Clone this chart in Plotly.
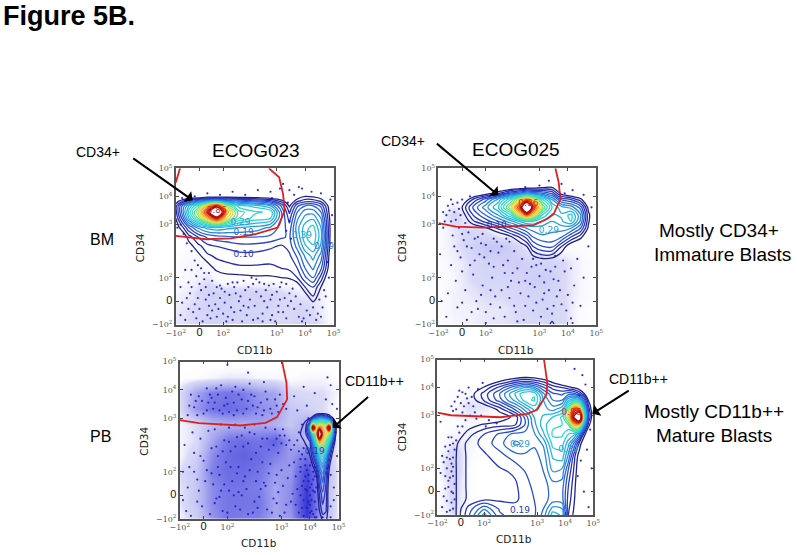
import plotly.graph_objects as go

W, H = 797, 555

# ---------- panel boxes (left, right, top, bottom in image pixels) ----------
panel_names = ["bm023", "bm025", "pb023", "pb025"]
panel_boxes = [(175, 333, 169, 325), (438, 596, 169, 325), (179, 338, 362, 519), (437, 593, 360, 515)]

# where the page puts the plotting area inside the window (offset, size)
page_x, page_y, page_w, page_h = 9, 7, 781, 543

tick_pos = [0, 0.15, 0.30, 0.64, 0.82, 1]
tick_text = ["\u221210<sup>2</sup>", '<span style="font-size:11px;font-family:Liberation Sans;color:#111">0</span>',
             "10<sup>2</sup>", "10<sup>3</sup>", "10<sup>4</sup>", "10<sup>5</sup>"]

# ---------- red gates ----------
gate_bm023 = [[(0, .567), (.19, .546), (.35, .552), (.50, .578), (.645, .621), (.69, .728), (.68, .835), (.655, .942), (.59, 1)],
              [(.027, 1), (0, .91)]]
gate_bm025 = [[(0, .649), (.11, .627), (.288, .62), (.604, .636), (.688, .675), (.73, .707), (.773, .803), (.762, .91), (.741, 1)]]
gate_pb023 = [[(0, .628), (.121, .609), (.383, .594), (.54, .611), (.613, .647), (.676, .76), (.672, .866), (.644, 1)]]
gate_pb025 = [[(0, .659), (.085, .642), (.406, .629), (.577, .651), (.641, .679), (.70, .776), (.705, .851), (.684, 1)]]

# ---------- density (log-like level units) ----------
x_bm023 = [0, .04, .08, .14, .20, .26, .32, .40, .50, .60, .67, .72, .77, .82, .87, .92, .97, 1]
y_bm023 = [0, .10, .16, .24, .30, .36, .44, .50, .56, .62, .68, .72, .76, .79, .82, .88, 1]
z_bm023 = [
 [0]*18,
 [0]*18,
 [0,0,0,0,0,0,0,0,0,0,0,0,0,.3,1.3,.3,0,0],
 [0,0,0,0,0,0,0,0,0,0,0,0,.5,1.5,2,1,0,0],
 [0,0,0,0,0,.5,.8,.8,.9,.9,1,1.1,1.5,2.4,3,1.8,.3,0],
 [0,0,0,0,.6,1.2,1.3,1.4,1.4,1.4,1.5,1.6,2,3,3.6,2.6,.8,0],
 [0,0,0,.8,1.4,1.6,1.7,1.8,1.8,1.7,1.7,1.9,2.6,3.6,4.2,3.3,1,0],
 [0,0,.7,1.3,1.8,2,2.1,2.3,2.3,2.1,1.9,2.2,3.2,4.4,4.9,3.9,1.2,0],
 [0,.4,1.2,2,2.6,2.8,2.9,3,3,2.9,2.6,2.4,3.6,4.9,5.4,4.2,1.3,0],
 [.6,1.3,2.4,3.6,4.2,4.4,4.2,4,3.8,3.4,2.8,2.2,3.8,4.8,5.2,4,1.3,0],
 [1,2.6,4.4,6.5,8.5,10.5,8,6,5.3,5,3,1.8,3.4,4.2,4.4,3.5,1.2,0],
 [1.3,3.2,5,7.4,10.5,15,9,6.2,5.6,5.4,3,1.4,3,3.8,3.8,3,1,0],
 [1.3,3,4.4,6,8.5,10.5,7,5.2,4.8,4,2.4,.9,2.4,3,3,2.4,.8,0],
 [.6,1.4,2.2,3,3.6,4,3.4,3,2.6,2.2,1.3,.3,1.4,1.8,1.8,1.4,.4,0],
 [0,0,0,0,.5,.5,.5,.5,.5,.2,0,0,.5,1,.9,.6,0,0],
 [0]*18,
 [0]*18,
]

x_bm025 = [0, .10, .15, .22, .30, .38, .46, .52, .56, .60, .66, .72, .78, .84, .90, .95, 1]
y_bm025 = [0, .02, .06, .38, .44, .50, .56, .62, .66, .70, .75, .80, .84, .88, .92, 1]
z_bm025 = [
 [0,0,0,0,0,0,0,0,0,0,0,1.3,0,0,0,0,0],
 [0,0,0,0,0,0,0,0,0,0,0,1,0,0,0,0,0],
 [0]*17,
 [0]*17,
 [0,0,0,0,0,0,0,0,0,1,1.4,1.3,.7,0,0,0,0],
 [0,0,0,0,0,0,0,.6,1,2,2.5,2.6,1.5,.4,0,0,0],
 [0,0,0,0,0,.3,.9,1.6,2.2,3,3.4,3.4,3,2,1.2,.2,0],
 [0,0,0,.5,1,1.7,2.6,3.2,3.6,3.8,3.8,3.6,3.8,3.6,2.6,.9,0],
 [0,0,.3,1.4,2.2,3,3.8,4.6,5,5,4.4,4,4.4,5,3.4,1.1,0],
 [0,0,.6,2,3,4,5.5,8,9.5,8,5.4,4.4,4.6,5.2,3.6,1.2,0],
 [0,0,1,2.6,3.8,5,7.5,10.5,15,10.5,7,5,4.2,3.8,2.8,.8,0],
 [0,0,.2,1.6,2.8,4.2,6,8,9.5,8,5.6,4,2.4,2,1.2,.1,0],
 [0,0,0,0,.6,1.4,2.6,3.2,3.6,3.4,3,2.4,.7,.2,0,0,0],
 [0,0,0,0,0,0,0,.2,.4,.5,.8,.9,.1,0,0,0,0],
 [0]*17,
 [0]*17,
]

x_pb023 = [0, .76, .79, .82, .84, .86, .88, .90, .92, .94, .96, .98, 1]
y_pb023 = [0, .06, .16, .28, .34, .40, .46, .50, .54, .58, .62, .65, .68, 1]
z_pb023 = [
 [0,0,0,0,0,0,.5,1.2,1.2,.5,0,0,0],
 [0,0,0,0,0,0,1.1,1.8,1.6,.6,0,0,0],
 [0,0,0,0,0,.4,1.6,2.4,1.8,.5,0,0,0],
 [0,0,0,0,.3,1,2.6,3.4,2.2,.8,0,0,0],
 [0,0,0,.5,1.1,2,3.6,4.2,3,1.2,.3,0,0],
 [0,0,.5,1,2,3.4,5,5.6,4.2,2,.8,0,0],
 [0,.3,.9,1.2,3,5,7,7,6,4,1.6,.4,0],
 [0,.8,1.1,1.6,4,6,9.5,8,7,5.5,3,.8,0],
 [0,1,1.2,3,5.5,7.5,15,9,8,7,4.5,1.2,0],
 [0,.9,1.2,4,12.5,7.5,9.5,8.5,8,12.5,5,1.3,0],
 [0,.4,1,2,5,5.5,6,6,5.5,5,3,.8,0],
 [0,0,0,.4,1.2,2.2,2.8,2.8,2.4,1.6,.7,0,0],
 [0]*13,
 [0]*13,
]

x_pb025 = [0, .08, .13, .20, .30, .40, .50, .56, .62, .68, .74, .80, .84, .88, .91, .94, .97, 1]
y_pb025 = [0, .04, .10, .18, .28, .38, .46, .52, .58, .63, .68, .74, .78, .82, .86, .90, 1]
z_pb025 = [
 [0,.2,1.2,2.4,4.2,2.6,2.2,2.2,2.4,3.2,4.8,4.4,1.5,.8,.3,0,0,0],
 [0,.2,1.2,2.2,3.4,2.4,2.2,2.2,2.4,3,4.2,4,1.6,.9,.3,0,0,0],
 [0,.1,1.2,1.6,1.9,1.9,1.9,2.2,2.5,2.8,3.2,3.2,1.8,1,.3,0,0,0],
 [0,.1,1.2,1.6,1.8,1.8,1.9,2.3,2.6,2.8,3.2,3.2,2,1.1,.4,0,0,0],
 [0,.1,1.2,1.6,1.8,1.9,2.1,2.5,2.7,3,4,3.8,2.4,1.3,.5,0,0,0],
 [0,.1,1.2,1.6,1.9,2.3,2.8,2.9,2.8,3.2,4.6,4.8,3.4,1.6,.7,0,0,0],
 [0,.1,1,1.7,2.2,2.8,3.6,3.4,3.1,3.6,5.2,5.2,4.2,2.8,1.4,.4,0,0],
 [0,0,.6,1.3,2,2.6,3.2,3.2,3.4,4.4,5.6,5.6,5,4.6,3.4,1.3,.2,0],
 [0,0,.2,.7,1.1,1.3,1.5,2.5,3.8,4.8,5.4,5.5,6,8.5,8,4,1.2,.2],
 [0,0,0,0,.2,.6,1.2,2.6,4,4.6,5,5.6,7.5,12,15,6,2,.4],
 [0,0,0,0,.3,1.2,2.6,3.6,4.6,4.2,3.8,4.4,6.6,10,9.5,5,1.8,.3],
 [0,0,0,.5,1.6,2.8,4.2,5.2,5.6,4,3,3,4.4,5,4.6,2.8,.9,0],
 [0,0,0,.6,1.7,3,4.6,5.4,5.4,3.6,2.6,2.4,2.8,2.6,2,1.1,.2,0],
 [0,0,0,.1,1.1,2.2,3.4,4,3.6,2.6,1.8,1.5,1.2,.9,.5,0,0,0],
 [0,0,0,0,.3,1,1.7,2,1.8,1.4,.8,.3,0,0,0,0,0,0],
 [0,0,0,0,0,0,.3,.4,.4,.1,0,0,0,0,0,0,0,0],
 [0]*18,
]

# ---------- event density outside the contours ----------
grid_axis = [0, .1, .2, .3, .4, .5, .6, .7, .8, .9, 1]
bg_bm023 = [
 [.08,.1,.13,.13,.13,.13,.1,.1,.13,.1,.02],
 [.07,.1,.13,.14,.13,.13,.12,.1,.13,.08,.02],
 [.05,.08,.14,.14,.14,.14,.13,.1,.07,.07,.02],
 [.02,.05,.08,0,0,0,0,0,0,.02,.02],
 [.03,.05,.02,0,0,0,0,0,0,0,.02],
 [.02,.02,0,0,0,0,0,0,0,0,.02],
 [0,0,0,0,0,0,0,0,0,0,.02],
 [0,0,0,0,0,0,0,0,0,0,.02],
 [0,.02,.02,.02,.02,.02,.02,.02,.03,.02,.02],
 [0,0,0,0,0,0,0,0,0,0,0],
 [0,0,0,0,0,0,0,0,0,0,0],
]
bg_bm025 = [
 [.03,.05,.06,.08,.08,.1,.1,.12,.1,.03,.02],
 [.03,.06,.06,.08,.08,.1,.12,.13,.1,.03,.02],
 [.03,.06,.08,.1,.1,.12,.13,.13,.1,.05,.02],
 [.03,.05,.1,.12,.12,.13,.16,.16,.1,.05,.02],
 [.03,.06,.1,.13,.14,.16,.13,.13,.1,.05,.02],
 [.03,.08,.13,.2,.2,.12,.03,.02,.02,.03,.02],
 [.03,.08,.12,.1,.02,0,0,0,0,0,.02],
 [.03,.13,.03,0,0,0,0,0,0,.02,.02],
 [0,.02,.04,.02,0,0,0,0,0,.02,.02],
 [0,0,0,0,0,0,0,0,0,0,0],
 [0,0,0,0,0,0,0,0,0,0,0],
]
bg_pb023 = [
 [.05,.15,.4,.55,.5,.5,.35,.4,.85,.3,.05],
 [.08,.2,.45,.55,.55,.55,.35,.45,.9,.3,.05],
 [.08,.2,.45,.55,.55,.5,.35,.45,.85,.3,.05],
 [.1,.2,.5,.6,.6,.55,.4,.4,.8,.35,.05],
 [.05,.15,.45,.6,.65,.6,.5,.4,.55,.25,.05],
 [.05,.1,.35,.55,.6,.55,.65,.35,.25,.25,.05],
 [.05,.1,.25,.3,.3,.35,.3,.2,.35,.1,.02],
 [.1,.4,.55,.6,.55,.45,.4,.2,.15,.1,.02],
 [.1,.35,.5,.55,.5,.4,.35,.12,.1,.1,.05],
 [.02,.03,.05,.08,.08,.05,.05,.03,.05,.05,.02],
 [0,0,0,0,0,0,0,0,0,0,0],
]
bg_pb025 = [
 [.02,.1,0,0,0,0,0,0,0,0,0],
 [.02,.12,.03,0,0,0,0,0,0,0,0],
 [.02,.13,.03,0,0,0,0,0,0,0,0],
 [.03,.16,.03,0,0,0,0,0,0,0,0],
 [.02,.13,.05,0,0,0,0,0,0,0,0],
 [0,.06,.06,.02,0,0,0,0,0,0,0],
 [0,.02,.05,.03,0,0,0,0,0,0,0],
 [0,.03,.1,.08,.02,0,0,0,0,0,0],
 [0,.02,.03,.03,.02,.02,0,0,0,0,0],
 [0,0,0,0,0,0,0,0,0,0,0],
 [0,0,0,0,0,0,0,0,0,0,0],
]

# ---------- individual events ----------
dots_bm023 = [(.06,.03),(.11,.08),(.17,.02),(.21,.12),(.26,.05),(.31,.14),(.36,.03),(.41,.09),(.47,.16),(.52,.04),(.58,.11),(.63,.02),
 (.68,.08),(.73,.15),(.78,.05),(.83,.09),(.89,.03),(.93,.11),(.04,.14),(.09,.2),(.14,.17),(.19,.24),(.24,.2),(.29,.23),(.34,.19),(.39,.27),
 (.44,.22),(.49,.26),(.54,.18),(.59,.25),(.64,.21),(.69,.17),(.74,.23),(.79,.13),(.08,.27),(.13,.31),(.18,.29),(.23,.28),(.28,.25),(.33,.26),
 (.37,.24),(.43,.28),(.48,.3),(.53,.27),(.57,.22),(.62,.26),(.67,.27),(.72,.2),(.03,.06),(.15,.1),(.2,.06),(.25,.13),(.3,.07),(.35,.11),(.4,.15),
 (.45,.06),(.5,.12),(.55,.07),(.6,.16),(.65,.12),(.7,.04),(.75,.1),(.8,.02),(.85,.06),(.9,.07),(.95,.18),(.16,.36),(.12,.41),(.1,.47),(.07,.52),
 (.05,.58),(.03,.64),(.01,.62),(.21,.33),(.06,.35),(.03,.24),(.97,.3),(.96,.4),(.98,.52),(.99,.7),(.98,.8),(.94,.22),(.91,.16),(.12,.82),(.2,.84),
 (.28,.83),(.36,.85),(.44,.83),(.52,.86),(.6,.85),(.66,.87),(.72,.86),(.75,.83),(.8,.87),(.86,.85),(.92,.84),(.71,.78),(.72,.66),(.7,.6),(.73,.55),
 (.78,.88),(.68,.9),(.61,.81),(.09,.8),(.04,.81),
 (.08,.1),(.13,.04),(.19,.16),(.23,.09),(.28,.17),(.33,.05),(.38,.2),(.43,.12),(.49,.03),(.51,.21),(.56,.15),(.61,.06),(.66,.24),(.71,.12),(.76,.18),
 (.81,.04),(.87,.11),(.92,.05),(.16,.22),(.21,.19),(.26,.24),(.31,.21),(.36,.27),(.41,.18),(.46,.24),(.51,.29),(.56,.26),(.61,.19),(.66,.16),(.7,.26),
 (.22,.04),(.27,.1),(.32,.02),(.37,.08),(.42,.02),(.46,.11),(.55,.02),(.6,.03),(.65,.08),(.12,.13),(.07,.17),(.1,.35),(.14,.38),(.18,.33),(.1,.24),(.15,.26)]
dots_bm025 = [(.05,.05),(.12,.11),(.18,.03),(.24,.15),(.3,.08),(.36,.18),(.42,.05),(.48,.12),(.54,.03),(.6,.09),(.66,.16),(.72,.07),(.78,.13),(.84,.04),
 (.06,.2),(.11,.28),(.17,.22),(.22,.32),(.28,.25),(.34,.3),(.4,.22),(.46,.28),(.52,.2),(.58,.26),(.64,.31),(.7,.22),(.76,.28),(.82,.19),
 (.08,.38),(.14,.43),(.2,.38),(.26,.45),(.32,.39),(.38,.46),(.44,.41),(.5,.36),(.56,.33),(.62,.38),(.68,.35),(.74,.37),(.8,.34),(.86,.25),(.9,.12),
 (.1,.5),(.16,.54),(.21,.49),(.25,.56),(.3,.51),(.35,.55),(.4,.5),(.45,.53),(.28,.58),(.19,.59),(.13,.62),(.08,.66),(.05,.7),(.1,.72),(.12,.78),
 (.08,.8),(.06,.76),(.14,.7),(.03,.62),(.01,.45),(.02,.15),(.15,.34),(.25,.1),(.35,.04),(.45,.17),(.55,.12),(.65,.05),(.75,.18),(.85,.14),(.92,.3),
 (.88,.42),(.95,.5),(.97,.75),(.92,.83),(.85,.86),(.8,.84),(.64,.89),(.55,.88),(.45,.86),(.35,.85),(.28,.82),(.2,.82),(.15,.8),(.78,.9),(.7,.92),(.6,.42),
 (.42,.33),(.33,.22),(.23,.41),(.67,.27),(.73,.12),(.5,.02),(.3,.01),(.85,.01),
 (.15,.14),(.21,.08),(.27,.19),(.33,.13),(.39,.11),(.44,.24),(.49,.08),(.51,.27),(.57,.18),(.62,.14),(.69,.1),(.71,.34),(.77,.22),(.81,.09),(.65,.39),
 (.59,.37),(.53,.42),(.48,.47),(.43,.55),(.37,.53),(.33,.47),(.27,.52),(.23,.55),(.18,.5),(.12,.47),(.09,.57),(.15,.58),(.11,.67),(.17,.65),(.07,.73),
 (.13,.74),(.04,.66),(.03,.72),(.09,.77),(.29,.43),(.35,.37),(.41,.38),(.47,.33),(.55,.28),(.61,.24),(.67,.2),(.73,.29),(.79,.41),(.84,.36),(.74,.44)]
dots_pb023 = [(.07,.02),(.14,.08),(.19,.03),(.23,.13),(.27,.05),(.31,.18),(.35,.08),(.39,.15),(.43,.03),(.47,.11),(.51,.19),(.55,.06),(.59,.13),(.63,.02),
 (.67,.09),(.71,.16),(.75,.04),(.78,.12),(.8,.07),(.82,.15),(.84,.03),(.83,.22),(.81,.28),(.79,.34),(.77,.21),(.85,.11),(.86,.2),(.95,.08),(.97,.2),
 (.93,.32),(.05,.2),(.11,.25),(.17,.31),(.21,.22),(.25,.28),(.29,.36),(.33,.24),(.37,.33),(.41,.27),(.45,.38),(.49,.3),(.53,.23),(.57,.35),(.61,.28),
 (.65,.21),(.69,.34),(.73,.27),(.76,.38),(.09,.42),(.15,.37),(.2,.45),(.24,.4),(.28,.5),(.32,.43),(.36,.52),(.4,.46),(.44,.55),(.48,.42),(.52,.51),
 (.56,.44),(.6,.57),(.64,.48),(.66,.53),(.62,.42),(.7,.44),(.74,.5),(.08,.55),(.13,.51),(.18,.56),(.03,.47),(.06,.33),(.02,.12),(.11,.11),
 (.22,.57),(.26,.6),(.31,.58),(.35,.6),(.41,.58),(.47,.6),(.54,.58),(.05,.66),(.09,.71),(.12,.78),(.15,.67),(.18,.74),(.21,.7),(.24,.79),(.27,.67),
 (.3,.73),(.33,.81),(.36,.69),(.39,.76),(.42,.7),(.45,.79),(.48,.67),(.51,.74),(.54,.81),(.57,.7),(.6,.76),(.62,.68),(.65,.73),(.07,.79),(.17,.83),
 (.26,.85),(.35,.84),(.44,.86),(.53,.87),(.2,.77),(.28,.72),(.34,.66),(.4,.82),(.46,.72),(.52,.66),(.72,.78),(.78,.84),(.85,.8),(.92,.76),(.96,.73),
 (.8,.72),(.74,.69),(.81,.64),(.77,.6),(.75,.55),(.78,.45),(.84,.3),(.83,.12),(.85,.27),(.82,.04),(.86,.06),(.8,.18),(.81,.24),(.84,.18),(.83,.36),(.79,.27),
 (.98,.55),(.99,.7),(.93,.9),(.95,.85),(.3,.98),(.43,.93),(.04,.05),(.02,.3),(.13,.4),(.25,.14),(.37,.17),(.49,.07),(.61,.1),(.73,.09),(.95,.01),(.9,.01),(.86,.01),
 (.22,.1),(.26,.18),(.3,.04),(.34,.15),(.38,.06),(.42,.19),(.46,.04),(.5,.14),(.54,.21),(.58,.04),(.62,.17),(.66,.04),(.7,.11),(.74,.19),(.77,.07),(.79,.19),
 (.81,.11),(.83,.05),(.85,.17),(.82,.09),(.84,.25),(.8,.31),(.78,.24),(.76,.3),(.72,.36),(.68,.26),(.64,.31),(.6,.23),(.56,.29),(.52,.36),(.48,.24),(.44,.31),
 (.4,.24),(.36,.29),(.32,.33),(.28,.22),(.24,.33),(.2,.29),(.16,.24),(.12,.18),(.09,.3),(.23,.46),(.27,.43),(.31,.49),(.35,.46),(.39,.53),(.43,.48),(.47,.54),
 (.51,.46),(.55,.51),(.59,.47),(.63,.53),(.67,.47),(.61,.51),(.65,.57),(.69,.5),(.72,.47),(.11,.66),(.14,.75),(.17,.69),(.19,.79),(.22,.74),(.25,.69),(.23,.83),
 (.29,.77),(.31,.68),(.34,.74),(.37,.79),(.4,.67),(.43,.75),(.47,.78),(.49,.71),(.53,.69),(.55,.76),(.58,.67),(.61,.72),(.63,.79),(.67,.7),(.1,.75),(.06,.72),
 (.81,.42),(.77,.41),(.75,.43),(.79,.38),(.76,.33),(.82,.34),(.85,.33),(.78,.02),(.76,.15),(.82,.2),(.85,.01),(.97,.12),(.95,.28),(.99,.4)]
dots_pb025 = [(.04,.12),(.07,.18),(.09,.08),(.1,.25),(.06,.3),(.08,.36),(.11,.42),(.05,.44),(.09,.5),(.1,.31),(.07,.22),(.03,.38),(.09,.15),(.02,.27),
 (.08,.45),(.06,.09),(.11,.2),(.1,.37),(.12,.48),(.14,.53),(.16,.57),(.18,.61),(.21,.64),(.25,.62),(.12,.68),(.15,.72),(.09,.7),(.13,.76),(.18,.78),
 (.2,.72),(.16,.66),(.23,.7),(.2,.82),(.26,.81),(.29,.85),(.14,.8),(.11,.73),(.24,.66),(.28,.64),(.33,.61),(.38,.59),(.31,.57),(.05,.17),(.09,.28),(.06,.02),
 (.91,.77),(.93,.9),(.95,.84),(.88,.94),(.98,.55),(.96,.42),(.99,.3),(.92,.35),(.94,.15),(.97,.05),(.9,.25),(.02,.6),(.03,.05),(.07,.41),(.04,.34),
 (.08,.24),(.1,.14),(.05,.25),(.09,.33),(.11,.1),(.1,.46),(.07,.5),(.06,.37),(.1,.04),(.08,.03),(.13,.57),(.17,.7),(.19,.75),(.1,.67),(.22,.76),(.16,.79)]

# ---------- printed contour labels: x, y, text, colour ----------
labels_bm023 = [(.43,.59,"0.19","#2a6bcb"),(.43,.45,"0.10","#2b3bb3"),(.41,.65,"0.29","#2aa0d8"),(.26,.73,"0.86","#d9301f"),
                (.80,.57,"0.39","#27a5c9"),(.94,.50,"0.29","#2a7ccb")]
labels_bm025 = [(.37,.635,"0.10","#2b3bb3"),(.70,.60,"0.29","#2aa0d8"),(.57,.77,"0.86","#d9301f")]
labels_pb023 = [(.85,.43,"0.19","#2b3bb3")]
labels_pb025 = [(.53,.45,"0.29","#2aa0d8"),(.53,.03,"0.19","#2b3bb3"),(.86,.655,"0.86","#d9301f"),(.84,.42,"0.39","#27a5c9")]

# ---------- free text: x, y, text, size ----------
texts = [
 (68, 17, "<b>Figure 5B.</b>", 27), (255, 151, "ECOG023", 19), (516, 150, "ECOG025", 19),
 (101, 240, "BM", 16), (100, 437, "PB", 16), (97, 153, "CD34+", 14), (403, 142, "CD34+", 14),
 (374, 381, "CD11b++", 14), (638, 379, "CD11b++", 14),
 (719, 231, "Mostly CD34+", 19), (722, 255, "Immature Blasts", 19),
 (714, 412, "Mostly CD11b++", 19), (714, 436, "Mature Blasts", 19),
]
axis_titles = [(254, 350, "CD11b", 0), (516, 350, "CD11b", 0), (258, 543, "CD11b", 0), (514, 539, "CD11b", 0),
               (140, 248, "CD34", -90), (402, 248, "CD34", -90), (143, 441, "CD34", -90), (401, 437, "CD34", -90)]
arrows = [(131, 158, 192, 201), (435, 143, 498, 196), (369, 396, 332, 428), (630, 390, 592, 414)]

panels = [
    (gate_bm023, x_bm023, y_bm023, z_bm023, bg_bm023, dots_bm023, labels_bm023),
    (gate_bm025, x_bm025, y_bm025, z_bm025, bg_bm025, dots_bm025, labels_bm025),
    (gate_pb023, x_pb023, y_pb023, z_pb023, bg_pb023, dots_pb023, labels_pb023),
    (gate_pb025, x_pb025, y_pb025, z_pb025, bg_pb025, dots_pb025, labels_pb025),
]


def fx(px):
    return (px - page_x) / page_w


def fy(py):
    return 1 - (py - page_y) / page_h


jet = [[0, "#1f1f8f"], [.12, "#2a3cc8"], [.27, "#2a8fe0"], [.42, "#28d6e0"], [.55, "#5fe09a"],
       [.68, "#e6e63c"], [.78, "#f59a20"], [.88, "#e8301a"], [1, "#a81010"]]
pale = [[0, "rgba(255,255,255,0)"], [.1, "rgba(205,205,245,.75)"], [.5, "#7f7fe8"], [1, "#2020d0"]]

fig = go.Figure()
layout = {}
for i, (box, p) in enumerate(zip(panel_boxes, panels)):
    gates, zx, zy, z, bg, dots, labs = p
    n = "" if i == 0 else str(i + 1)
    xa, ya = "x" + n, "y" + n
    l, r, t, b = box
    fig.add_trace(go.Heatmap(x=grid_axis, y=grid_axis, z=bg, zmin=0, zmax=1, zsmooth="best", colorscale=pale,
                             showscale=False, hoverinfo="skip", xaxis=xa, yaxis=ya))
    fig.add_trace(go.Scatter(x=[d[0] for d in dots], y=[d[1] for d in dots], mode="markers",
                             marker=dict(size=2.2, color="#1c1cc4", opacity=.9, line=dict(width=0)),
                             hoverinfo="skip", xaxis=xa, yaxis=ya))
    fig.add_trace(go.Contour(x=zx, y=zy, z=z, zmin=1, zmax=11, colorscale=jet, showscale=False,
                             contours=dict(coloring="lines", start=1, end=11.5, size=.5),
                             line=dict(width=1.3, smoothing=1), hoverinfo="skip", xaxis=xa, yaxis=ya))
    for g in gates:
        fig.add_trace(go.Scatter(x=[q[0] for q in g], y=[q[1] for q in g], mode="lines",
                                 line=dict(color="#dd2020", width=1.8), hoverinfo="skip", xaxis=xa, yaxis=ya))
    fig.add_trace(go.Scatter(x=[q[0] for q in labs], y=[q[1] for q in labs], text=[q[2] for q in labs], mode="text",
                             textfont=dict(size=9, family="DejaVu Sans", color=[q[3] for q in labs]),
                             hoverinfo="skip", xaxis=xa, yaxis=ya))
    common = dict(range=[0, 1], tickmode="array", tickvals=tick_pos, ticktext=tick_text, ticks="inside", ticklen=3,
                  tickcolor="#444", showline=True, linecolor="#555", linewidth=1.5, mirror="allticks",
                  showgrid=False, zeroline=False, tickfont=dict(family="DejaVu Serif", size=8, color="#555"))
    layout["xaxis" + n] = dict(domain=[fx(l), fx(r)], anchor=ya, **common)
    layout["yaxis" + n] = dict(domain=[fy(b), fy(t)], anchor=xa, **common)

ann = []
for x, y, s, size in texts:
    ann.append(dict(x=fx(x), y=fy(y), xref="paper", yref="paper", xanchor="center", yanchor="middle", text=s,
                    showarrow=False, font=dict(family="Liberation Sans", size=size, color="black")))
for x, y, s, ang in axis_titles:
    ann.append(dict(x=fx(x), y=fy(y), xref="paper", yref="paper", xanchor="center", yanchor="middle", text=s,
                    showarrow=False, textangle=ang, font=dict(family="DejaVu Sans", size=10.5, color="#222")))
for x0, y0, x1, y1 in arrows:
    ann.append(dict(x=fx(x1), y=fy(y1), ax=x0 - x1, ay=y0 - y1, xref="paper", yref="paper",
                    text="", showarrow=True, arrowhead=1, arrowsize=1.1, arrowwidth=2, arrowcolor="black"))

fig.update_layout(width=W, height=H, margin=dict(l=0, r=0, t=0, b=0), paper_bgcolor="white", plot_bgcolor="white",
                  showlegend=False, annotations=ann, **layout)
fig.write_html("out.html", config=dict(displayModeBar=False), post_script="document.body.style.margin='0';")
